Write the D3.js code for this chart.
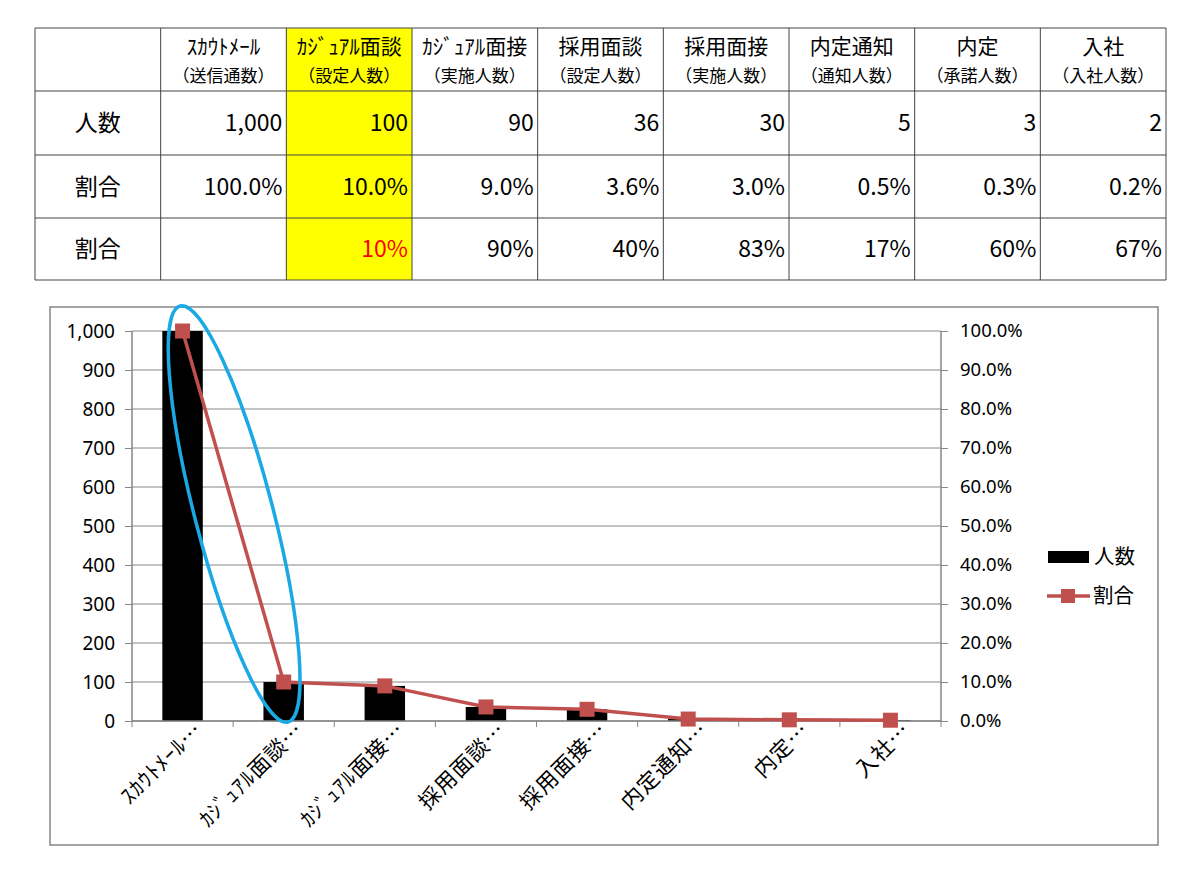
<!DOCTYPE html>
<html>
<head>
<meta charset="utf-8">
<script src="https://cdn.jsdelivr.net/npm/d3@7"></script>
<style>
  body { margin: 0; background: #fff; }
  svg { display: block; font-family: "Noto Sans CJK JP", "Noto Sans", sans-serif; }
</style>
</head>
<body>
<svg id="SVG_CONTAINER" width="1200" height="871"></svg>
<script>
let d3 = window.d3;

// table / chart data
const stageNames = ["ｽｶｳﾄﾒｰﾙ", "ｶｼﾞｭｱﾙ面談", "ｶｼﾞｭｱﾙ面接", "採用面談", "採用面接", "内定通知", "内定", "入社"];
const stageUnits = ["（送信通数）", "（設定人数）", "（実施人数）", "（設定人数）", "（実施人数）", "（通知人数）", "（承諾人数）", "（入社人数）"];
const rowLabels  = ["人数", "割合", "割合"];
const counts     = [1000, 100, 90, 36, 30, 5, 3, 2];
const ratios     = [1.0, 0.10, 0.09, 0.036, 0.03, 0.005, 0.003, 0.002];
const stepRatios = [null, 0.10, 0.90, 0.40, 0.83, 0.17, 0.60, 0.67];
const leftTicks  = [0, 100, 200, 300, 400, 500, 600, 700, 800, 900, 1000];
const rightTicks = [0, 0.1, 0.2, 0.3, 0.4, 0.5, 0.6, 0.7, 0.8, 0.9, 1.0];
const highlightCol = 1;   // カジュアル面談 column

const svg = d3.select("#SVG_CONTAINER");

// ---------------- table ----------------
const TABLE = { LEFT: 35, RIGHT: 1166, TOP: 28 };
const rowHeights = [63, 64, 63, 62];

let colX = d3.scaleBand()
  .domain(d3.range(stageNames.length + 1))
  .range([TABLE.LEFT, TABLE.RIGHT]);

let rowY = [TABLE.TOP];
rowHeights.forEach(h => rowY.push(rowY[rowY.length - 1] + h));

let table = svg.append("g").attr("id", "table");

// yellow column
table.append("rect")
  .attr("x", colX(highlightCol + 1))
  .attr("y", rowY[0])
  .attr("width", colX.bandwidth())
  .attr("height", rowY[4] - rowY[0])
  .attr("fill", "#ffff00");

// grid lines
d3.range(stageNames.length + 2).forEach(i => {
  let x = i <= stageNames.length ? colX(i) : TABLE.RIGHT;
  table.append("line")
    .attr("x1", x).attr("x2", x)
    .attr("y1", rowY[0]).attr("y2", rowY[4])
    .attr("stroke", "#444").attr("stroke-width", 1);
});
rowY.forEach(y => {
  table.append("line")
    .attr("x1", TABLE.LEFT).attr("x2", TABLE.RIGHT)
    .attr("y1", y).attr("y2", y)
    .attr("stroke", "#444").attr("stroke-width", 1);
});

// header text
stageNames.forEach((name, i) => {
  let cx = colX(i + 1) + colX.bandwidth() / 2;
  table.append("text")
    .attr("x", cx).attr("y", rowY[0] + 26)
    .attr("text-anchor", "middle")
    .attr("font-size", "21px")
    .attr("fill", "#000")
    .text(name);
  table.append("text")
    .attr("x", cx).attr("y", rowY[0] + 54)
    .attr("text-anchor", "middle")
    .attr("font-size", "17px")
    .attr("fill", "#000")
    .text(stageUnits[i]);
});

// row labels
rowLabels.forEach((lab, r) => {
  table.append("text")
    .attr("x", colX(0) + colX.bandwidth() / 2)
    .attr("y", (rowY[r + 1] + rowY[r + 2]) / 2)
    .attr("dy", "0.35em")
    .attr("text-anchor", "middle")
    .attr("font-size", "23px")
    .text(lab);
});

const fmtCount = d3.format(",");
const fmtPct1  = d3.format(".1%");
const fmtPct0  = d3.format(".0%");
const rowValues = [
  counts.map(fmtCount),
  ratios.map(fmtPct1),
  stepRatios.map(v => v == null ? "" : fmtPct0(v))
];

rowValues.forEach((vals, r) => {
  vals.forEach((v, i) => {
    table.append("text")
      .attr("x", colX(i + 1) + colX.bandwidth() - 4)
      .attr("y", (rowY[r + 1] + rowY[r + 2]) / 2)
      .attr("dy", "0.35em")
      .attr("text-anchor", "end")
      .attr("font-size", "23px")
      .attr("fill", (r == 2 && i == highlightCol) ? "#ff0000" : "#000")
      .text(v);
  });
});

// ---------------- chart ----------------
const FRAME = { LEFT: 50, TOP: 307, RIGHT: 1158, BOTTOM: 845 };
const PLOT  = { LEFT: 132, RIGHT: 941, TOP: 331, BOTTOM: 721 };
const AXIS_COLOR = "#868686";
const LINE_COLOR = "#c0504d";

svg.append("rect")
  .attr("x", FRAME.LEFT).attr("y", FRAME.TOP)
  .attr("width", FRAME.RIGHT - FRAME.LEFT)
  .attr("height", FRAME.BOTTOM - FRAME.TOP)
  .attr("fill", "none")
  .attr("stroke", AXIS_COLOR)
  .attr("stroke-width", 1.5);

let xScale = d3.scaleBand()
  .domain(d3.range(stageNames.length))
  .range([PLOT.LEFT, PLOT.RIGHT]);

let yLeft = d3.scaleLinear()
  .domain([0, 1000])
  .range([PLOT.BOTTOM, PLOT.TOP]);

let yRight = d3.scaleLinear()
  .domain([0, 1])
  .range([PLOT.BOTTOM, PLOT.TOP]);

let chart = svg.append("g").attr("id", "chart");

// gridlines
chart.append("g")
  .selectAll("line")
  .data(leftTicks)
  .enter()
  .append("line")
    .attr("x1", PLOT.LEFT).attr("x2", PLOT.RIGHT)
    .attr("y1", d => yLeft(d)).attr("y2", d => yLeft(d))
    .attr("stroke", AXIS_COLOR)
    .attr("stroke-width", 1);

// left axis
let yAxisL = d3.axisLeft(yLeft)
  .tickValues(leftTicks)
  .tickFormat(d3.format(","))
  .tickSize(7)
  .tickPadding(10);
let gL = chart.append("g")
  .attr("transform", "translate(" + PLOT.LEFT + ",0)")
  .call(yAxisL);

// right axis
let yAxisR = d3.axisRight(yRight)
  .tickValues(rightTicks)
  .tickFormat(d3.format(".1%"))
  .tickSize(7)
  .tickPadding(12);
let gR = chart.append("g")
  .attr("transform", "translate(" + PLOT.RIGHT + ",0)")
  .call(yAxisR);

[gL, gR].forEach(g => {
  g.select(".domain").attr("stroke", AXIS_COLOR).attr("stroke-width", 1.5).attr("d",
    "M0," + PLOT.BOTTOM + "V" + PLOT.TOP);
  g.selectAll(".tick line").attr("stroke", AXIS_COLOR).attr("stroke-width", 1);
  g.selectAll(".tick text")
    .attr("fill", "#000")
    .attr("font-family", "Noto Sans, sans-serif");
});
gL.selectAll(".tick text").attr("font-size", "19px");
gR.selectAll(".tick text").attr("font-size", "18.5px");

// bars
chart.append("g")
  .selectAll("rect")
  .data(counts)
  .enter()
  .append("rect")
    .attr("x", (d, i) => xScale(i) + xScale.bandwidth() * 0.3)
    .attr("width", xScale.bandwidth() * 0.4)
    .attr("y", d => yLeft(d))
    .attr("height", d => yLeft(0) - yLeft(d))
    .attr("fill", "#000");

// x axis
let xAxisG = chart.append("g").attr("transform", "translate(0," + PLOT.BOTTOM + ")");
xAxisG.append("line")
  .attr("x1", PLOT.LEFT).attr("x2", PLOT.RIGHT)
  .attr("stroke", AXIS_COLOR).attr("stroke-width", 1.5);
xAxisG.selectAll("line.tk")
  .data(d3.range(stageNames.length + 1))
  .enter()
  .append("line")
    .attr("class", "tk")
    .attr("x1", i => i < stageNames.length ? xScale(i) : PLOT.RIGHT)
    .attr("x2", i => i < stageNames.length ? xScale(i) : PLOT.RIGHT)
    .attr("y1", 0).attr("y2", 6)
    .attr("stroke", AXIS_COLOR).attr("stroke-width", 1);
xAxisG.selectAll("text")
  .data(stageNames)
  .enter()
  .append("text")
    .attr("transform", (d, i) => "translate(" + (xScale(i) + xScale.bandwidth() / 2 + 16) + ",5) rotate(-45)")
    .attr("text-anchor", "end")
    .attr("dy", "0.35em")
    .attr("font-size", "21.5px")
    .attr("letter-spacing", "1px")
    .attr("fill", "#000")
    .text(d => d + "…");

// ratio line
let line = d3.line()
  .x((d, i) => xScale(i) + xScale.bandwidth() / 2)
  .y(d => yRight(d));

chart.append("path")
  .datum(ratios)
  .attr("d", line)
  .attr("fill", "none")
  .attr("stroke", LINE_COLOR)
  .attr("stroke-width", 3.5);

chart.append("g")
  .selectAll("rect")
  .data(ratios)
  .enter()
  .append("rect")
    .attr("x", (d, i) => xScale(i) + xScale.bandwidth() / 2 - 7.5)
    .attr("y", d => yRight(d) - 7.5)
    .attr("width", 15).attr("height", 15)
    .attr("fill", LINE_COLOR);

// highlight ellipse around the first two stages
let ex1 = xScale(0) + xScale.bandwidth() / 2, ey1 = yLeft(counts[0]);
let ex2 = xScale(1) + xScale.bandwidth() / 2, ey2 = yLeft(0);
let ecx = (ex1 + ex2) / 2 + 1, ecy = (ey1 + ey2) / 2 - 12;
let angle = Math.atan2(ex2 - ex1, ey2 - ey1) * 180 / Math.PI;
chart.append("ellipse")
  .attr("cx", 0).attr("cy", 0)
  .attr("rx", 39).attr("ry", 215)
  .attr("transform", "translate(" + ecx + "," + ecy + ") rotate(" + (-angle) + ")")
  .attr("fill", "none")
  .attr("stroke", "#1aa9e4")
  .attr("stroke-width", 3.5);

// legend
let legend = svg.append("g").attr("id", "legend");
legend.append("rect")
  .attr("x", 1048).attr("y", 551).attr("width", 41).attr("height", 12)
  .attr("fill", "#000");
legend.append("text")
  .attr("x", 1094).attr("y", 557).attr("dy", "0.35em")
  .attr("font-size", "20.5px")
  .text("人数");
legend.append("line")
  .attr("x1", 1047).attr("x2", 1090).attr("y1", 596).attr("y2", 596)
  .attr("stroke", LINE_COLOR).attr("stroke-width", 3.5);
legend.append("rect")
  .attr("x", 1061).attr("y", 589).attr("width", 14).attr("height", 14)
  .attr("fill", LINE_COLOR);
legend.append("text")
  .attr("x", 1093).attr("y", 596).attr("dy", "0.35em")
  .attr("font-size", "20.5px")
  .text("割合");
</script>
</body>
</html>
